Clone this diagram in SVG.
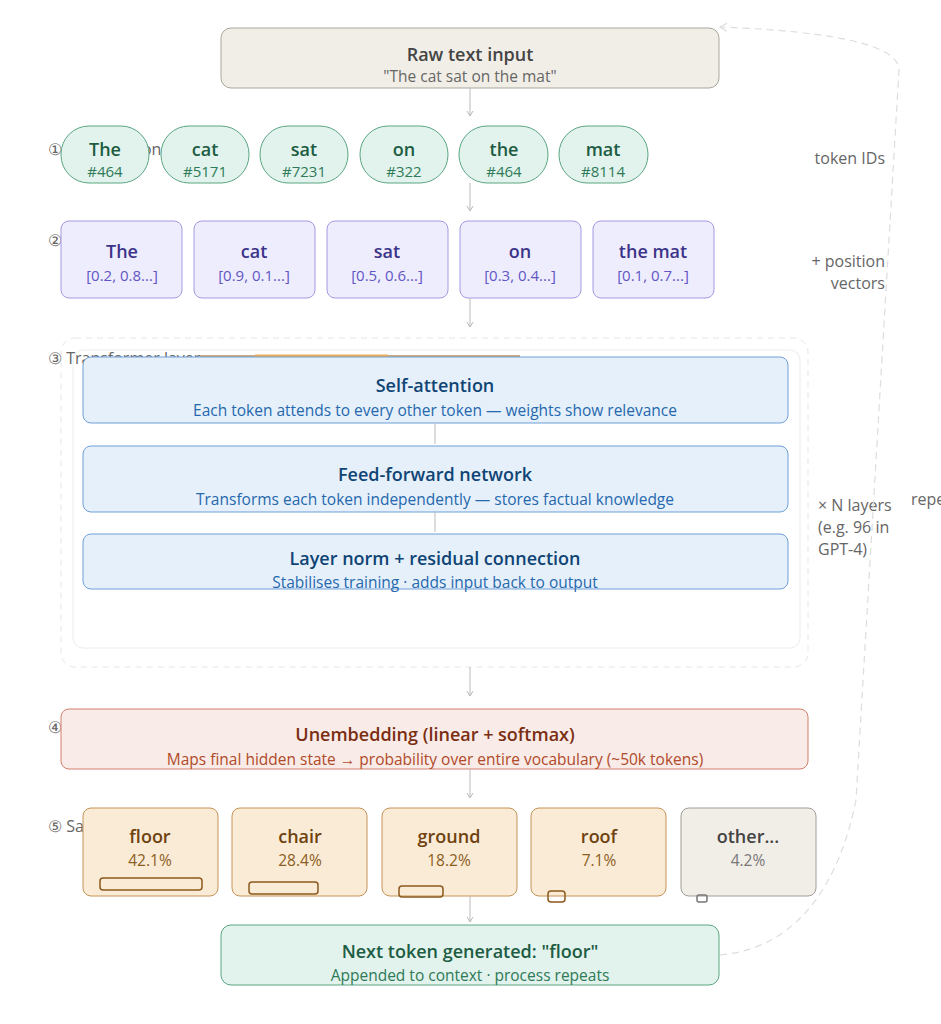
<svg xmlns="http://www.w3.org/2000/svg" width="941" height="1024" viewBox="0 0 941 1024">
<defs>
<marker id="ah" markerWidth="8" markerHeight="8" refX="6" refY="4" orient="auto" markerUnits="userSpaceOnUse"><path d="M1,1 L6,4 L1,7" fill="none" stroke="#bbb" stroke-width="1"/></marker>
<marker id="ah2" markerWidth="10" markerHeight="10" refX="8" refY="5" orient="auto" markerUnits="userSpaceOnUse"><path d="M1,1 L8,5 L1,9" fill="none" stroke="#ddd" stroke-width="1.2"/></marker>
</defs>
<style>
text{font-family:"Segoe UI","Open Sans","Noto Sans",sans-serif;text-anchor:middle}
.lbl{fill:#666;font-size:16px;text-anchor:start}
.rl{fill:#666;font-size:16px;text-anchor:end}
.tok rect{fill:#e1f3ec;stroke:#5aa582}
.tok .a{fill:#1d5c43;font-size:18px;font-weight:600}
.tok .b{fill:#2f7a58;font-size:15px}
.emb rect{fill:#eeedfd;stroke:#a399e2}
.emb .a{fill:#3c3489;font-size:18px;font-weight:600}
.emb .b{fill:#6156c4;font-size:15px}
.tl rect{fill:#e5f0fb;stroke:#6f9fd6}
.tl .a{fill:#0f4474;font-size:18px;font-weight:600}
.tl .b{fill:#2568ad;font-size:15.5px}
.pr rect.bg{fill:#faebd7;stroke:#c59456}
.pr .bar{fill:none;stroke:#8c5a1c;stroke-width:1.5}
.pr .a{fill:#6e420f;font-size:18px;font-weight:600}
.pr .b{fill:#8c5d22;font-size:15.5px}
.conn line{stroke:#bbb;stroke-width:1}
</style>
<g id="raw"><rect x="221" y="28" width="498" height="60" rx="10" fill="#f1eee7" stroke="#a9a69c"/>
<text x="470" y="61" font-size="18" font-weight="600" fill="#444">Raw text input</text>
<text x="470" y="82" font-size="15.5" fill="#666">"The cat sat on the mat"</text></g>

<text class="lbl" x="48" y="155">①  Tokenization</text>
<text class="rl" x="885" y="164">token IDs</text>
<g class="tok" id="t1"><rect x="61" y="126" width="88" height="57" rx="28"/><text class="a" x="105" y="156">The</text><text class="b" x="105" y="177">#464</text></g>
<g class="tok" id="t2"><rect x="161" y="126" width="88" height="57" rx="28"/><text class="a" x="205" y="156">cat</text><text class="b" x="205" y="177">#5171</text></g>
<g class="tok" id="t3"><rect x="260" y="126" width="88" height="57" rx="28"/><text class="a" x="304" y="156">sat</text><text class="b" x="304" y="177">#7231</text></g>
<g class="tok" id="t4"><rect x="360" y="126" width="88" height="57" rx="28"/><text class="a" x="404" y="156">on</text><text class="b" x="404" y="177">#322</text></g>
<g class="tok" id="t5"><rect x="459" y="126" width="89" height="57" rx="28"/><text class="a" x="504" y="156">the</text><text class="b" x="504" y="177">#464</text></g>
<g class="tok" id="t6"><rect x="559" y="126" width="89" height="57" rx="28"/><text class="a" x="603" y="156">mat</text><text class="b" x="603" y="177">#8114</text></g>

<text class="lbl" x="48" y="246">②</text>
<text class="rl" x="885" y="267">+ position</text>
<text class="rl" x="885" y="289">vectors</text>
<g class="emb" id="e1"><rect x="61" y="221" width="121" height="77" rx="8"/><text class="a" x="122" y="258">The</text><text class="b" x="122" y="281">[0.2, 0.8...]</text></g>
<g class="emb" id="e2"><rect x="194" y="221" width="121" height="77" rx="8"/><text class="a" x="254" y="258">cat</text><text class="b" x="254" y="281">[0.9, 0.1...]</text></g>
<g class="emb" id="e3"><rect x="327" y="221" width="121" height="77" rx="8"/><text class="a" x="387" y="258">sat</text><text class="b" x="387" y="281">[0.5, 0.6...]</text></g>
<g class="emb" id="e4"><rect x="460" y="221" width="121" height="77" rx="8"/><text class="a" x="520" y="258">on</text><text class="b" x="520" y="281">[0.3, 0.4...]</text></g>
<g class="emb" id="e5"><rect x="593" y="221" width="121" height="77" rx="8"/><text class="a" x="653" y="258">the mat</text><text class="b" x="653" y="281">[0.1, 0.7...]</text></g>

<g id="tframe"><rect x="61" y="338" width="747" height="329" rx="14" fill="none" stroke="#e6e6e6" stroke-dasharray="6 5"/>
<rect x="73" y="350" width="727" height="298" rx="10" fill="none" stroke="#ececec"/></g>
<text class="lbl" x="48" y="364">③ Transformer layers</text>
<line x1="200" y1="356" x2="520" y2="356" stroke="#c9ab82" stroke-width="2"/>
<line x1="255" y1="356" x2="388" y2="356" stroke="#e8ae5a" stroke-width="3"/>
<g class="tl" id="sa"><rect x="83" y="357" width="705" height="66" rx="8"/><text class="a" x="435" y="392">Self-attention</text><text class="b" x="435" y="416">Each token attends to every other token — weights show relevance</text></g>
<g class="tl" id="ff"><rect x="83" y="446" width="705" height="66" rx="8"/><text class="a" x="435" y="481">Feed-forward network</text><text class="b" x="435" y="505">Transforms each token independently — stores factual knowledge</text></g>
<g class="tl" id="ln"><rect x="83" y="534" width="705" height="55" rx="8"/><text class="a" x="435" y="565">Layer norm + residual connection</text><text class="b" x="435" y="588">Stabilises training · adds input back to output</text></g>
<text x="818" y="511" font-size="16" fill="#666" style="text-anchor:start">× N layers</text>
<text x="818" y="533" font-size="16" fill="#666" style="text-anchor:start">(e.g. 96 in</text>
<text x="818" y="555" font-size="16" fill="#666" style="text-anchor:start">GPT-4)</text>
<text x="911" y="505" font-size="16" fill="#666" style="text-anchor:start">repeat</text>

<text class="lbl" x="48" y="733">④</text>
<g id="unemb"><rect x="61" y="709" width="747" height="60" rx="8" fill="#f9ebe7" stroke="#d37f6b"/>
<text x="435" y="741" font-size="18" font-weight="600" fill="#7a2e12">Unembedding (linear + softmax)</text>
<text x="435" y="765" font-size="15.5" fill="#b04a2a">Maps final hidden state → probability over entire vocabulary (~50k tokens)</text></g>

<text class="lbl" x="48" y="832">⑤ Sampling</text>
<g class="pr" id="p1"><rect class="bg" x="83" y="808" width="135" height="88" rx="8"/><text class="a" x="150" y="843">floor</text><text class="b" x="150" y="866">42.1%</text><rect class="bar" x="100" y="878" width="102" height="12" rx="3"/></g>
<g class="pr" id="p2"><rect class="bg" x="232" y="808" width="135" height="88" rx="8"/><text class="a" x="300" y="843">chair</text><text class="b" x="300" y="866">28.4%</text><rect class="bar" x="249" y="882" width="69" height="12" rx="3"/></g>
<g class="pr" id="p3"><rect class="bg" x="382" y="808" width="135" height="88" rx="8"/><text class="a" x="449" y="843">ground</text><text class="b" x="449" y="866">18.2%</text><rect class="bar" x="399" y="886" width="44" height="11" rx="3"/></g>
<g class="pr" id="p4"><rect class="bg" x="531" y="808" width="135" height="88" rx="8"/><text class="a" x="599" y="843">roof</text><text class="b" x="599" y="866">7.1%</text><rect class="bar" x="548" y="891" width="17" height="11" rx="3"/></g>
<g id="p5"><rect x="681" y="808" width="135" height="88" rx="8" fill="#f1eee7" stroke="#a09d96"/><text x="748" y="843" font-size="18" font-weight="600" fill="#444">other...</text><text x="748" y="866" font-size="15.5" fill="#777">4.2%</text><rect x="697" y="895" width="10" height="7" rx="2" fill="none" stroke="#777" stroke-width="1.5"/></g>

<g id="next"><rect x="221" y="925" width="498" height="60" rx="10" fill="#e1f3ec" stroke="#5aa582"/>
<text x="470" y="958" font-size="18" font-weight="600" fill="#1d5c43">Next token generated: "floor"</text>
<text x="470" y="981" font-size="15.5" fill="#2f7a58">Appended to context · process repeats</text></g>

<g class="conn">
<line x1="470" y1="88" x2="470" y2="116" marker-end="url(#ah)"/>
<line x1="470" y1="183" x2="470" y2="211" marker-end="url(#ah)"/>
<line x1="470" y1="298" x2="470" y2="327" marker-end="url(#ah)"/>
<line x1="435" y1="423" x2="435" y2="444" stroke="#e2e2e8"/>
<line x1="435" y1="512" x2="435" y2="532" stroke="#e2e2e8"/>
<line x1="470" y1="667" x2="470" y2="696" marker-end="url(#ah)"/>
<line x1="470" y1="769" x2="470" y2="798" marker-end="url(#ah)"/>
<line x1="470" y1="896" x2="470" y2="922" marker-end="url(#ah)"/>
<path d="M720,955 C800,948 840,880 856,800 L899,70 Q899,34 720,27" fill="none" stroke="#ddd" stroke-width="1.2" stroke-dasharray="7 5" marker-end="url(#ah2)"/>
</g>
</svg>
